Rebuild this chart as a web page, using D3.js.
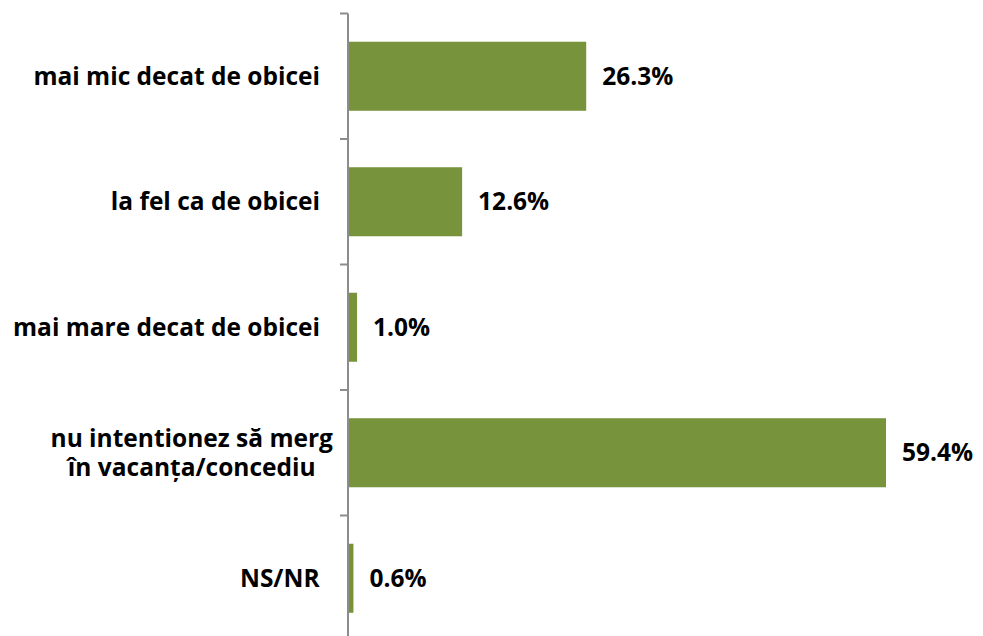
<!DOCTYPE html>
<html>
<head>
<meta charset="utf-8">
<script src="https://cdn.jsdelivr.net/npm/d3@7"></script>
<style>
  body { margin: 0; background: #fff; }
  text { font-family: "Open Sans", Lato, sans-serif; font-weight: bold; fill: #000; }
</style>
</head>
<body>
<svg id="chart" width="983" height="636"></svg>
<script>
// categories and values
let categories = ["mai mic decat de obicei", "la fel ca de obicei", "mai mare decat de obicei", "nu intentionez să merg\nîn vacanța/concediu", "NS/NR"]
let values = [26.3, 12.6, 1.0, 59.4, 0.6]
let valueLabels = ["26.3%", "12.6%", "1.0%", "59.4%", "0.6%"]

let svg = d3.select("#chart")
let origin = { x: 348, y: 13.5 }
let bandStep = 125.5
let plotHeight = bandStep * categories.length

let x = d3.scaleLinear()
    .domain([0, 59.4])
    .range([origin.x, 886])

let y = d3.scaleBand()
    .domain(categories)
    .range([origin.y, origin.y + plotHeight])
    .paddingInner(0.45)
    .paddingOuter(0.225)

// bars
svg.append("g").selectAll("rect")
    .data(values)
    .join("rect")
    .attr("x", x(0))
    .attr("y", (d, i) => y(categories[i]))
    .attr("width", (d) => x(d) - x(0))
    .attr("height", y.bandwidth())
    .attr("fill", "#77933C")

// axis line and ticks on band boundaries
let ticks = d3.range(categories.length + 1).map((i) => origin.y + i * bandStep)
let axis = svg.append("g")
axis.append("line")
    .attr("x1", origin.x).attr("x2", origin.x)
    .attr("y1", origin.y).attr("y2", origin.y + plotHeight)
    .attr("stroke", "#8c8c8c")
    .attr("stroke-width", 2)
axis.selectAll("line.tick")
    .data(ticks)
    .join("line")
    .attr("class", "tick")
    .attr("x1", origin.x - 8).attr("x2", origin.x)
    .attr("y1", (d) => d).attr("y2", (d) => d)
    .attr("stroke", "#8c8c8c")
    .attr("stroke-width", 2)

// category labels
let fontSize = 24.5
let lineHeight = 29
let labels = svg.append("g").selectAll("text")
    .data(categories)
    .join("text")
    .attr("text-anchor", "middle")
    .attr("font-size", fontSize)
    .each(function (d) {
        let lines = d.split("\n")
        let cy = y(d) + y.bandwidth() / 2
        let startY = cy - (lines.length - 1) * lineHeight / 2
        let t = d3.select(this)
        lines.forEach((line, j) => {
            t.append("tspan")
                .attr("x", 0)
                .attr("y", startY + j * lineHeight)
                .attr("dy", "0.35em")
                .text(line)
        })
    })
// single lines end at x=320, the two-line block is centred a little further right
labels.each(function (d) {
    let box = this.getBBox()
    let right = d.includes("\n") ? 333 : 320
    d3.select(this).attr("transform", "translate(" + (right - box.width / 2) + ",0)")
})

// value labels
svg.append("g").selectAll("text")
    .data(values)
    .join("text")
    .attr("x", (d) => x(d) + 16)
    .attr("y", (d, i) => y(categories[i]) + y.bandwidth() / 2)
    .attr("dy", "0.35em")
    .attr("font-size", fontSize)
    .text((d, i) => valueLabels[i])
</script>
</body>
</html>
